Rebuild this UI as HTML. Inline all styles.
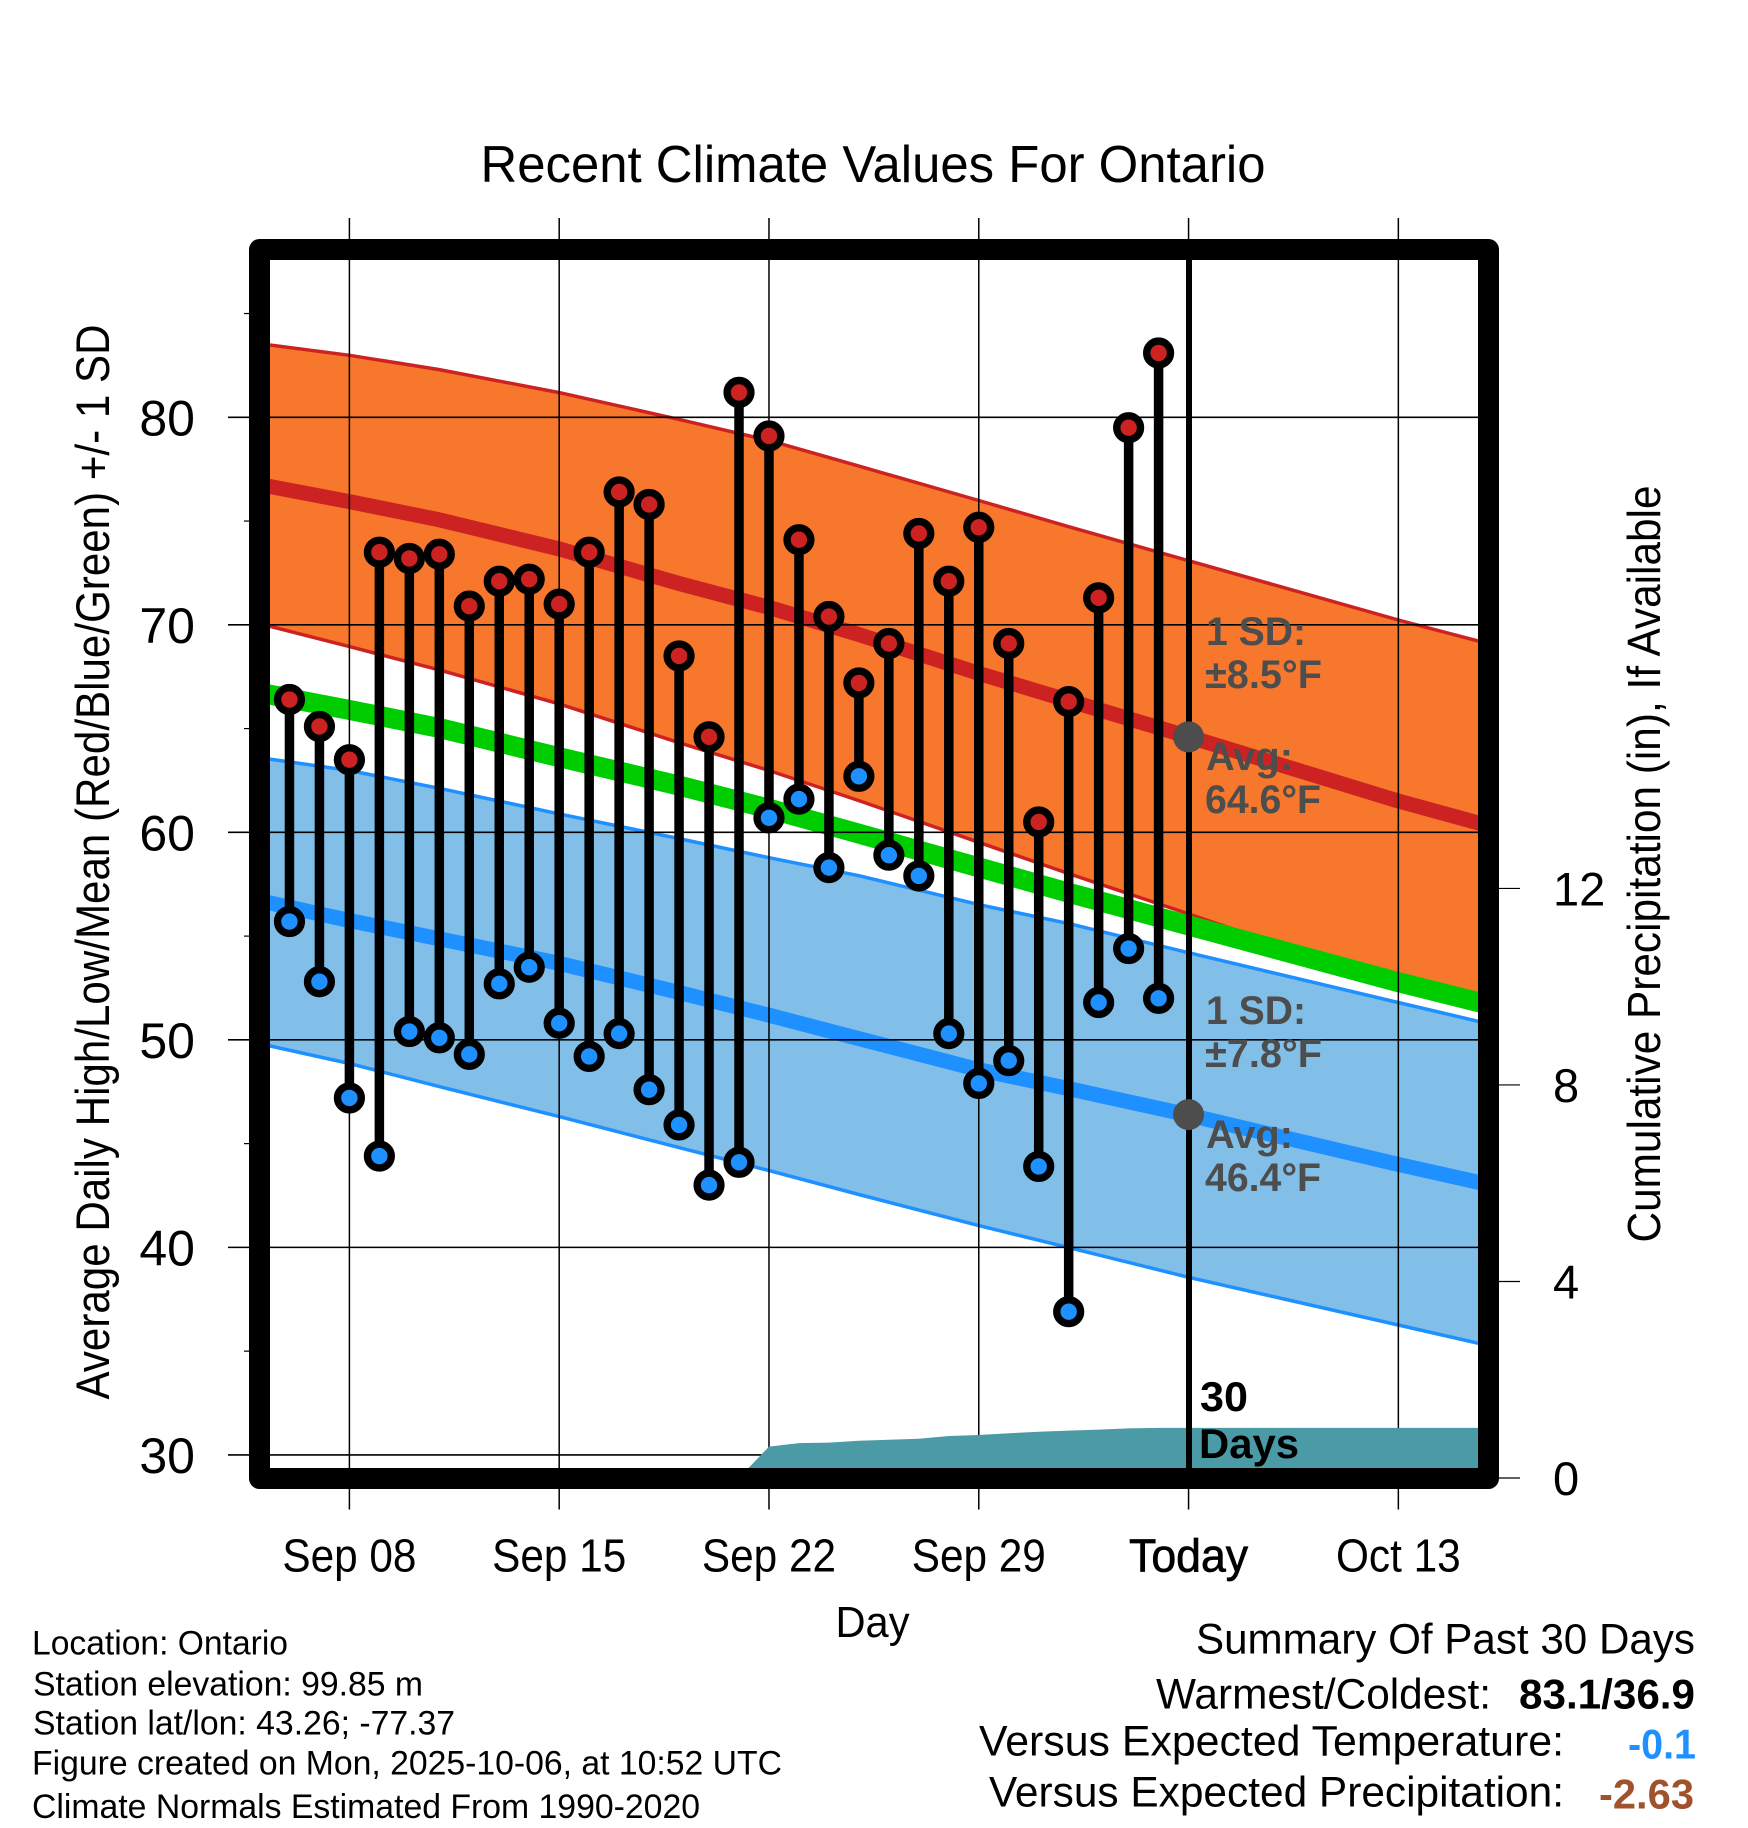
<!DOCTYPE html>
<html lang="en">
<head>
<meta charset="utf-8">
<title>Recent Climate Values For Ontario</title>
<style>
  html, body { margin: 0; padding: 0; background: #ffffff; }
  svg { display: block; font-family: "Liberation Sans", Arial, sans-serif; }
</style>
</head>
<body>
<svg id="chart" xmlns="http://www.w3.org/2000/svg" width="1748" height="1828" viewBox="0 0 1748 1828">
  <defs>
    <clipPath id="plot-clip"><rect x="270" y="260" width="1208" height="1208"></rect></clipPath>
  </defs>
  <rect x="0" y="0" width="1748" height="1828" fill="#ffffff"></rect>

  <g id="normals-layer" clip-path="url(#plot-clip)"></g>
  <g id="grid-layer"></g>
  <g id="precip-layer" clip-path="url(#plot-clip)"></g>
  <rect x="259.5" y="249.5" width="1229" height="1229" fill="none" stroke="#000000" stroke-width="21" stroke-linejoin="round"></rect>
  <line x1="1189" y1="255" x2="1189" y2="1475" stroke="#000000" stroke-width="6"></line>
  <g id="obs-layer"></g>
  <g id="marker-layer"></g>
  <g id="label-layer"></g>

  <text x="873" y="182" text-anchor="middle" font-size="52" textLength="785" lengthAdjust="spacingAndGlyphs">Recent Climate Values For Ontario</text>
  <text transform="translate(109,862) rotate(-90)" text-anchor="middle" font-size="47" textLength="1075" lengthAdjust="spacingAndGlyphs">Average Daily High/Low/Mean (Red/Blue/Green) +/- 1 SD</text>
  <text transform="translate(1660,864) rotate(-90)" text-anchor="middle" font-size="46" textLength="757" lengthAdjust="spacingAndGlyphs">Cumulative Precipitation (in), If Available</text>
  <text x="872.5" y="1637" text-anchor="middle" font-size="44" textLength="74" lengthAdjust="spacingAndGlyphs">Day</text>

  <g fill="#4d4d4d" font-weight="bold" font-size="40">
    <text x="1206" y="645" textLength="100" lengthAdjust="spacingAndGlyphs">1 SD:</text>
    <text x="1205" y="688" textLength="117" lengthAdjust="spacingAndGlyphs">±8.5°F</text>
    <text x="1206" y="770" textLength="87" lengthAdjust="spacingAndGlyphs">Avg:</text>
    <text x="1205" y="813" textLength="116" lengthAdjust="spacingAndGlyphs">64.6°F</text>
  </g>
  <g fill="#4d4d4d" font-weight="bold" font-size="40">
    <text x="1206" y="1024" textLength="100" lengthAdjust="spacingAndGlyphs">1 SD:</text>
    <text x="1205" y="1067" textLength="117" lengthAdjust="spacingAndGlyphs">±7.8°F</text>
    <text x="1206" y="1148" textLength="87" lengthAdjust="spacingAndGlyphs">Avg:</text>
    <text x="1205" y="1191" textLength="116" lengthAdjust="spacingAndGlyphs">46.4°F</text>
  </g>
  <g font-weight="bold" font-size="42">
    <text x="1200" y="1411" textLength="48" lengthAdjust="spacingAndGlyphs">30</text>
    <text x="1199" y="1458" textLength="100" lengthAdjust="spacingAndGlyphs">Days</text>
  </g>

  <g font-size="34">
    <text x="32" y="1654.5" textLength="256" lengthAdjust="spacingAndGlyphs">Location: Ontario</text>
    <text x="33" y="1695.5" textLength="390" lengthAdjust="spacingAndGlyphs">Station elevation: 99.85 m</text>
    <text x="33" y="1734.5" textLength="422" lengthAdjust="spacingAndGlyphs">Station lat/lon: 43.26; -77.37</text>
    <text x="32" y="1774.5" textLength="750" lengthAdjust="spacingAndGlyphs">Figure created on Mon, 2025-10-06, at 10:52 UTC</text>
    <text x="32" y="1818" textLength="668" lengthAdjust="spacingAndGlyphs">Climate Normals Estimated From 1990-2020</text>
  </g>

  <g font-size="43">
    <text x="1196" y="1653.5" textLength="499" lengthAdjust="spacingAndGlyphs">Summary Of Past 30 Days</text>
    <text x="1156" y="1708.5" textLength="335" lengthAdjust="spacingAndGlyphs">Warmest/Coldest:</text>
    <text x="1519" y="1708.5" font-weight="bold" font-size="42" textLength="176" lengthAdjust="spacingAndGlyphs">83.1/36.9</text>
    <text x="979" y="1755.5" textLength="585" lengthAdjust="spacingAndGlyphs">Versus Expected Temperature:</text>
    <text x="1628" y="1758.5" font-weight="bold" font-size="42" fill="#1e90ff" textLength="68" lengthAdjust="spacingAndGlyphs">-0.1</text>
    <text x="989" y="1806.5" textLength="575" lengthAdjust="spacingAndGlyphs">Versus Expected Precipitation:</text>
    <text x="1599" y="1808.5" font-weight="bold" font-size="42" fill="#a0522d" textLength="95" lengthAdjust="spacingAndGlyphs">-2.63</text>
  </g>
</svg>

<script>
// ---- observation data (one entry per day) ----
const dates = ["Sep 06","Sep 07","Sep 08","Sep 09","Sep 10","Sep 11","Sep 12","Sep 13","Sep 14","Sep 15","Sep 16","Sep 17","Sep 18","Sep 19","Sep 20","Sep 21","Sep 22","Sep 23","Sep 24","Sep 25","Sep 26","Sep 27","Sep 28","Sep 29","Sep 30","Oct 01","Oct 02","Oct 03","Oct 04","Oct 05"];
const dailyHigh = [66.4,65.1,63.5,73.5,73.2,73.4,70.9,72.1,72.2,71.0,73.5,76.4,75.8,68.5,64.6,81.2,79.1,74.1,70.4,67.2,69.1,74.4,72.1,74.7,69.1,60.5,66.3,71.3,79.5,83.1];
const dailyLow = [55.7,52.8,47.2,44.4,50.4,50.1,49.3,52.7,53.5,50.8,49.2,50.3,47.6,45.9,43.0,44.1,60.7,61.6,58.3,62.7,58.9,57.9,50.3,47.9,49.0,43.9,36.9,51.8,54.4,52.0];
const cumulativePrecip = [0,0,0,0,0,0,0,0,0,0,0,0,0,0,0,0,0.64,0.71,0.72,0.76,0.78,0.80,0.855,0.875,0.91,0.94,0.965,0.985,1.01,1.02];

// ---- climate normals, sampled at days counted from Sep 08 ----
const normalDays = [-3,0,3,7,11,14,17,21,24,28,35,38];
const highUpper = [83.55,82.99,82.30,81.19,79.90,78.88,77.65,75.99,74.73,73.09,70.23,69.09];
const highMean = [76.76,75.94,75.06,73.66,71.99,70.84,69.53,67.66,66.35,64.61,61.51,60.32];
const highLower = [70.06,68.95,67.83,66.19,64.32,62.98,61.53,59.52,58.01,56.07,52.61,51.31];
const meanNormal = [66.73,65.90,65.03,63.62,62.25,61.14,59.94,58.31,57.09,55.51,52.78,51.70];
const lowUpper = [63.60,62.98,62.12,60.89,59.70,58.78,57.91,56.52,55.60,54.20,51.80,50.78];
const lowMean = [56.71,55.75,54.87,53.69,52.28,51.19,50.06,48.56,47.65,46.38,44.00,43.03];
const lowLower = [49.82,48.86,47.75,46.30,44.81,43.70,42.55,41.05,39.99,38.56,36.26,35.27];

// ---- axes ----
const xTickDays = [0,7,14,21,28,35];
const xTickLabels = ["Sep 08","Sep 15","Sep 22","Sep 29","Today","Oct 13"];
const tempMajorTicks = [30,40,50,60,70,80];
const tempMinorTicks = [35,45,55,65,75,85];
const precipTicks = [0,4,8,12];
const todayHighAvg = 64.6;
const todayLowAvg = 46.4;
const todayDay = 28;
const firstDay = -2;
const axisEndDay = 38;

function xDay(d) { return 349.4 + d * 29.97; }
function yTemp(v) { return 417.3 + (80 - v) * 20.752; }
function yPrecip(v) { return 1478 - v * 49.13; }

const NS = 'http://www.w3.org/2000/svg';
function make(parent, tag, attrs) {
  const el = document.createElementNS(NS, tag);
  for (const k in attrs) el.setAttribute(k, attrs[k]);
  parent.appendChild(el);
  return el;
}
function linePoints(vals) {
  return vals.map(function (v, i) { return xDay(normalDays[i]).toFixed(1) + ',' + yTemp(v).toFixed(1); });
}
function bandPath(upper, lower) {
  const top = linePoints(upper);
  const bot = linePoints(lower).reverse();
  return 'M' + top.join(' L') + ' L' + bot.join(' L') + ' Z';
}
function condense(el, k) {
  const w = el.getComputedTextLength();
  el.setAttribute('textLength', (w * k).toFixed(1));
  el.setAttribute('lengthAdjust', 'spacingAndGlyphs');
}

const normalsLayer = document.getElementById('normals-layer');
const gridLayer = document.getElementById('grid-layer');
const precipLayer = document.getElementById('precip-layer');
const obsLayer = document.getElementById('obs-layer');
const markerLayer = document.getElementById('marker-layer');
const labelLayer = document.getElementById('label-layer');

// normal bands
let el = make(normalsLayer, 'path', { d: bandPath(highUpper, highLower), fill: '#f7782c' });


el = make(normalsLayer, 'polyline', { points: linePoints(highUpper).join(' '), fill: 'none', stroke: '#cd2222', 'stroke-width': 3.5 });


el = make(normalsLayer, 'polyline', { points: linePoints(highLower).join(' '), fill: 'none', stroke: '#cd2222', 'stroke-width': 3.5 });


el = make(normalsLayer, 'polyline', { points: linePoints(highMean).join(' '), fill: 'none', stroke: '#cd2222', 'stroke-width': 15 });


el = make(normalsLayer, 'path', { d: bandPath(lowUpper, lowLower), fill: '#82bfe8' });


el = make(normalsLayer, 'polyline', { points: linePoints(lowUpper).join(' '), fill: 'none', stroke: '#1e90ff', 'stroke-width': 3.5 });


el = make(normalsLayer, 'polyline', { points: linePoints(lowLower).join(' '), fill: 'none', stroke: '#1e90ff', 'stroke-width': 3.5 });


el = make(normalsLayer, 'polyline', { points: linePoints(lowMean).join(' '), fill: 'none', stroke: '#1e90ff', 'stroke-width': 15 });


el = make(normalsLayer, 'polyline', { points: linePoints(meanNormal).join(' '), fill: 'none', stroke: '#00cd00', 'stroke-width': 20 });



// vertical gridlines and x tick labels
xTickDays.forEach(function (d, i) {
  const x = xDay(d);
  const g = make(gridLayer, 'line', { x1: x, y1: 218, x2: x, y2: 1509.5, stroke: '#000', 'stroke-width': 1.5 });
  
  
  const t = make(labelLayer, 'text', { x: x, y: 1571.5, 'text-anchor': 'middle', 'font-size': 46 });
  t.textContent = xTickLabels[i];
  
  
  if (d === todayDay) {
    t.setAttribute('stroke', '#000');
    t.setAttribute('stroke-width', '0.7');
    condense(t, 0.97);
  } else {
    condense(t, 0.92);
  }
});

// temperature axis
tempMajorTicks.forEach(function (v) {
  const y = yTemp(v);
  const g = make(gridLayer, 'line', { x1: 228, y1: y, x2: 1478, y2: y, stroke: '#000', 'stroke-width': 1.6 });
  
  
  const t = make(labelLayer, 'text', { x: 195, y: y + 18, 'text-anchor': 'end', 'font-size': 50 });
  t.textContent = String(v);
  
  
});
tempMinorTicks.forEach(function (v) {
  const y = yTemp(v);
  const g = make(gridLayer, 'line', { x1: 244, y1: y, x2: 250, y2: y, stroke: '#000', 'stroke-width': 1.2 });
  
  
});

// precipitation axis
precipTicks.forEach(function (v) {
  const y = yPrecip(v);
  const g = make(gridLayer, 'line', { x1: 1498, y1: y, x2: 1520, y2: y, stroke: '#000', 'stroke-width': 1.2 });
  
  
  const t = make(labelLayer, 'text', { x: 1553, y: y + 17, 'font-size': 47 });
  t.textContent = String(v);
  
  
});

// cumulative precipitation area
const precipPts = cumulativePrecip.map(function (v, i) {
  return xDay(firstDay + i).toFixed(1) + ',' + yPrecip(v).toFixed(1);
});
const lastPrecip = cumulativePrecip[cumulativePrecip.length - 1];
el = make(precipLayer, 'path', {
  d: 'M' + xDay(firstDay).toFixed(1) + ',' + yPrecip(0) + ' L' + precipPts.join(' L') +
     ' L' + xDay(axisEndDay).toFixed(1) + ',' + yPrecip(lastPrecip).toFixed(1) +
     ' L' + xDay(axisEndDay).toFixed(1) + ',' + yPrecip(0) + ' Z',
  fill: '#4a9ba6'
});



// daily high/low lollipops
dates.forEach(function (date, i) {
  const x = xDay(firstDay + i);
  const yH = yTemp(dailyHigh[i]);
  const yL = yTemp(dailyLow[i]);
  const stem = make(obsLayer, 'line', { x1: x, y1: yH, x2: x, y2: yL, stroke: '#000', 'stroke-width': 9.5 });
  
  
  const hi = make(obsLayer, 'circle', { cx: x, cy: yH, r: 11.9, fill: '#cd2222', stroke: '#000', 'stroke-width': 7.4 });
  
  
  const lo = make(obsLayer, 'circle', { cx: x, cy: yL, r: 11.9, fill: '#1e90ff', stroke: '#000', 'stroke-width': 7.4 });
  
  
});

// today's average markers
el = make(markerLayer, 'circle', { cx: xDay(todayDay), cy: yTemp(todayHighAvg), r: 15.5, fill: '#4d4d4d' });


el = make(markerLayer, 'circle', { cx: xDay(todayDay), cy: yTemp(todayLowAvg), r: 15.5, fill: '#4d4d4d' });


</script>
</body>
</html>
